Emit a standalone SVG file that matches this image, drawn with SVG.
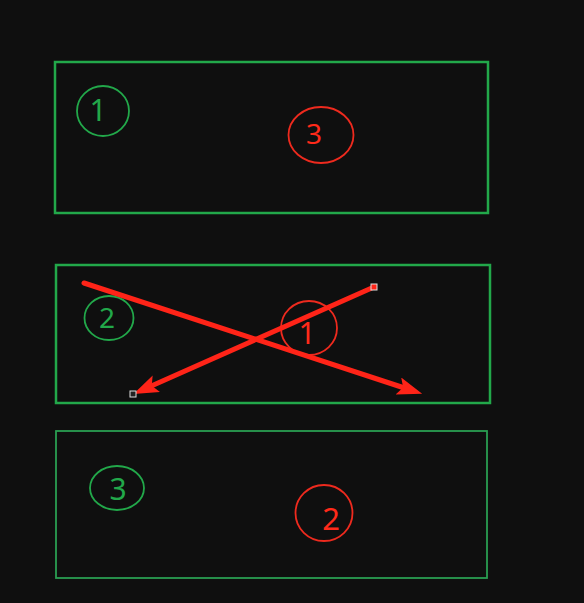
<svg xmlns="http://www.w3.org/2000/svg" width="584" height="603" viewBox="0 0 584 603">
<style>
.box{fill:none;stroke:#22a84a;stroke-width:2.5}
.gc{fill:none;stroke:#22a84a;stroke-width:1.8}
.rc{fill:none;stroke:#ee2a1e;stroke-width:1.8}
.gt{fill:#22a84a;font-family:"Noto Sans","Noto Sans CJK SC",sans-serif;text-anchor:middle}
.rt{fill:#ff2a1a;font-family:"Noto Sans","Noto Sans CJK SC",sans-serif;text-anchor:middle}
.ln{stroke:#ff2418;stroke-width:5;stroke-linecap:round;fill:none}
</style>
<defs>
<marker id="ah" markerWidth="28" markerHeight="20" refX="8" refY="9" orient="auto" markerUnits="userSpaceOnUse">
<path d="M0,0 L25,9 L0,18 L5,9 Z" fill="#ff2418"/>
</marker>
</defs>
<rect width="584" height="603" fill="#0f0f0f"/>
<g id="box1">
<rect class="box" x="55" y="62" width="433" height="151"/>
<ellipse class="gc" cx="103" cy="111" rx="26" ry="25"/>
<text class="gt" x="98" y="121" font-size="30">1</text>
<ellipse class="rc" cx="321" cy="135" rx="32.5" ry="28"/>
<text class="rt" x="314" y="144" font-size="28">3</text>
</g>
<g id="box2">
<rect class="box" x="56" y="265" width="434" height="138"/>
<ellipse class="gc" cx="109" cy="318" rx="24.5" ry="22"/>
<text class="gt" x="107" y="328" font-size="28">2</text>
<ellipse class="rc" cx="309" cy="328" rx="28" ry="27"/>
<text class="rt" x="307" y="344" font-size="30">1</text>
</g>
<g id="box3">
<rect class="box" style="stroke-width:1.8;stroke:#2a9e52" x="56" y="431" width="431" height="147"/>
<ellipse class="gc" cx="117" cy="488" rx="27" ry="22"/>
<text class="gt" x="118" y="500" font-size="30">3</text>
<ellipse class="rc" cx="324" cy="513" rx="28.5" ry="28"/>
<text class="rt" x="331" y="530" font-size="31">2</text>
</g>
<g id="connectors">
<line class="ln" x1="84" y1="283" x2="406" y2="388.5" marker-end="url(#ah)"/>
<line class="ln" x1="374" y1="287" x2="149" y2="387" marker-end="url(#ah)"/>
<rect x="371" y="284" width="6" height="6" fill="#ff2418" stroke="#dddddd" stroke-width="1"/>
<rect x="130" y="391" width="6" height="6" fill="#222" stroke="#dddddd" stroke-width="1"/>
</g>
</svg>
